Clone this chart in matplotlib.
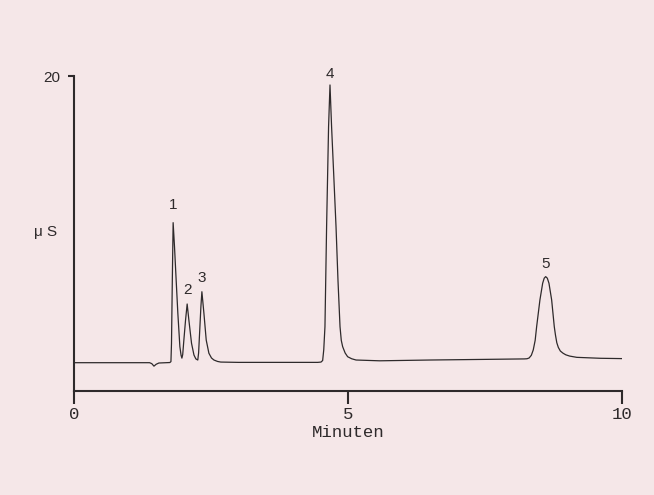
import matplotlib
matplotlib.use("Agg")
import matplotlib.pyplot as plt

# Leitfaehigkeitsdetektor-Spur, Punkte (min, uS)
trace_t = [0.00, 1.38, 1.42, 1.46, 1.50, 1.55, 1.75, 1.77, 1.78, 1.795, 1.81,
           1.835, 1.865, 1.896, 1.933, 1.955, 1.97, 1.985, 2.006, 2.037, 2.066,
           2.097, 2.146, 2.19, 2.225, 2.26, 2.275, 2.293, 2.317, 2.335, 2.372,
           2.414, 2.463, 2.51, 2.555, 2.62, 2.68, 3.00, 4.45, 4.51, 4.54, 4.56,
           4.582, 4.612, 4.648, 4.674, 4.703, 4.745, 4.784, 4.82, 4.857, 4.88,
           4.905, 4.95, 4.996, 5.07, 5.15, 5.58, 6.50, 7.50, 8.22, 8.27, 8.31,
           8.35, 8.385, 8.42, 8.447, 8.507, 8.557, 8.585, 8.612, 8.642, 8.672,
           8.721, 8.769, 8.79, 8.815, 8.843, 8.88, 8.93, 8.98, 9.05, 9.18,
           9.61, 10.00]
trace_us = [1.78, 1.78, 1.72, 1.56, 1.68, 1.76, 1.79, 1.85, 3.0, 7.0, 10.68,
            9.15, 7.04, 4.92, 2.80, 2.25, 2.07, 2.30, 3.22, 4.50, 5.51,
            4.50, 3.01, 2.27, 2.02, 1.95, 2.40, 3.65, 5.34, 6.29, 4.92,
            3.22, 2.38, 2.08, 1.95, 1.86, 1.82, 1.80, 1.80, 1.82, 1.92, 2.60,
            4.07, 10.43, 16.78, 19.43, 16.78, 13.5, 10.43, 7.0, 4.07, 3.2,
            2.80, 2.40, 2.16, 2.03, 1.95, 1.90, 1.95, 1.99, 2.02, 2.03, 2.08,
            2.25, 2.59, 3.20, 4.07, 5.77, 6.83, 7.15, 7.25, 7.15, 6.83,
            5.77, 4.07, 3.55, 3.05, 2.75, 2.52, 2.38, 2.28, 2.20, 2.12,
            2.06, 2.04]

# Peaks: Nummer, Retentionszeit, Hoehe
peak_ids = ["1", "2", "3", "4", "5"]
peak_t = [1.81, 2.066, 2.335, 4.674, 8.612]
peak_us = [10.68, 5.51, 6.29, 19.43, 7.25]
label_offset = [8, 5, 5, 3, 4]  # pt ueber der Spitze

x_ticks = [0, 5, 10]
y_ticks = [20]

paper = "#f5e7e8"
ink = "#2e2a2b"
mono = "Liberation Mono"
sans = "Liberation Sans"

fig = plt.figure(figsize=(6.54, 4.95), dpi=100, facecolor=paper)
ax = fig.add_axes([74 / 654, 104.3 / 495, 547.7 / 654, 314.7 / 495])
ax.set_facecolor(paper)

ax.plot(trace_t, trace_us, color=ink, lw=0.9, solid_joinstyle="round")

for pid, t, h, off in zip(peak_ids, peak_t, peak_us, label_offset):
    ax.annotate(pid, (t, h), xytext=(0, off), textcoords="offset points",
                ha="center", va="bottom", fontsize=11, family=sans,
                color=ink, annotation_clip=False)

ax.set_xlim(0, 10)
ax.set_ylim(0, 20)
for s in ["top", "right"]:
    ax.spines[s].set_visible(False)
for s in ["left", "bottom"]:
    ax.spines[s].set_color(ink)
    ax.spines[s].set_linewidth(1.5)

ax.set_xticks(x_ticks)
ax.set_xticklabels([str(v) for v in x_ticks], family=mono, fontsize=12.5)
ax.tick_params(axis="x", which="major", direction="out", length=9, width=1.5,
               color=ink, pad=3, labelcolor=ink)
ax.set_yticks(y_ticks)
ax.set_yticklabels([str(v) for v in y_ticks], family=sans, fontsize=11)
ax.tick_params(axis="y", which="major", direction="out", length=4, width=1.5,
               color=ink, pad=6, labelcolor=ink)

ax.set_xlabel("Minuten", family=mono, fontsize=12.5, color=ink, labelpad=2)
ax.text(-0.052, 10.1, "\u03bc S", transform=ax.get_yaxis_transform(),
        ha="center", va="center", fontsize=11, family=sans, color=ink)

fig.savefig("out.png", dpi=100, facecolor=paper)
